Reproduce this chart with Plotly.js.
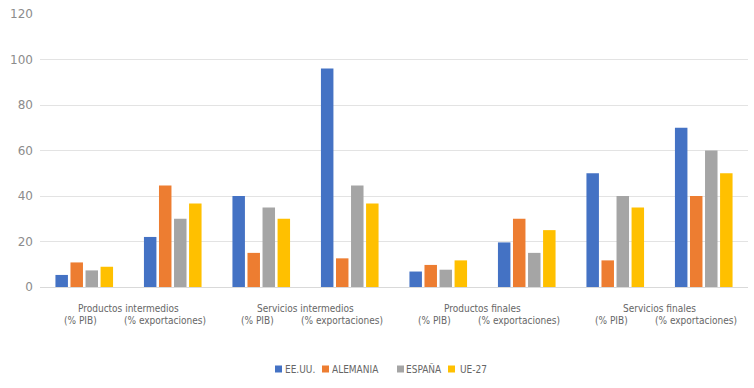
<!DOCTYPE html>
<html>
<head>
<meta charset="utf-8">
<script src="https://cdn.plot.ly/plotly-3.0.1.min.js"></script>
<style>html,body{margin:0;padding:0;background:#fff;}#chart{width:754px;height:388px;}</style>
</head>
<body>
<div id="chart"></div>
<script>
var categories = ["PI (% PIB)", "PI (% exportaciones)", "SI (% PIB)", "SI (% exportaciones)", "PF (% PIB)", "PF (% exportaciones)", "SF (% PIB)", "SF (% exportaciones)"];
var innerLabels = ["(% PIB)", "(% exportaciones)", "(% PIB)", "(% exportaciones)", "(% PIB)", "(% exportaciones)", "(% PIB)", "(% exportaciones)"];
var outerLabels = ["Productos intermedios", "Servicios intermedios", "Productos finales", "Servicios finales"];
var seriesNames = ["EE.UU.", "ALEMANIA", "ESPAÑA", "UE-27"];
var eeuu     = [5.3, 22, 40, 96, 6.8, 19.6, 50, 70];
var alemania = [10.8, 44.6, 15, 12.6, 9.7, 30, 11.7, 40];
var espana   = [7.3, 30, 35, 44.6, 7.6, 15, 40, 60];
var ue27     = [8.9, 36.7, 30, 36.7, 11.7, 25, 35, 50];
var yTicks = [0, 20, 40, 60, 80, 100, 120];

var colors = ["#4472C4", "#ED7D31", "#A5A5A5", "#FFC000"];
var values = [eeuu, alemania, espana, ue27];
var font = "'DejaVu Sans Condensed', 'Liberation Sans Narrow', 'Noto Sans', sans-serif";
var textColor = "#666666";

var traces = values.map(function (v, i) {
  return {type: "bar", x: categories, y: v, name: seriesNames[i], marker: {color: colors[i]}};
});

var annotations = [];
var shapes = [];
innerLabels.forEach(function (t, i) {
  var off = (i % 2 === 0) ? -0.04 : -0.09;
  annotations.push({x: i + off, y: -0.122, xref: "x", yref: "paper", text: t, showarrow: false,
    yanchor: "middle", font: {family: font, size: 10, color: textColor}});
});
outerLabels.forEach(function (t, i) {
  annotations.push({x: 2 * i + 0.5, y: -0.077, xref: "x", yref: "paper", text: t, showarrow: false,
    yanchor: "middle", font: {family: font, size: 10, color: textColor}});
});

// custom legend (positions in paper fractions of the plot area width 708px)
var legendSquares = [275, 322, 397, 448];
var legendText = [285, 332, 406, 460];
seriesNames.forEach(function (n, i) {
  var x0 = (legendSquares[i] - 40) / 708, x1 = (legendSquares[i] + 7 - 40) / 708;
  shapes.push({type: "rect", xref: "paper", yref: "paper", x0: x0, x1: x1,
    y0: (287 - 372.5) / 273, y1: (287 - 365.5) / 273, fillcolor: colors[i], line: {width: 0}});
  annotations.push({x: (legendText[i] - 40) / 708, y: (287 - 369) / 273, xref: "paper", yref: "paper",
    text: n, showarrow: false, xanchor: "left", yanchor: "middle", xshift: -2,
    font: {family: font, size: 10, color: textColor}});
});

var layout = {
  width: 754, height: 388,
  margin: {l: 40, r: 6, t: 14, b: 101},
  paper_bgcolor: "#fff", plot_bgcolor: "#fff",
  barmode: "group", bargap: 0.32, bargroupgap: 0.17,
  showlegend: false,
  xaxis: {type: "category", categoryarray: categories, showticklabels: false, showgrid: false,
    showline: true, linecolor: "#d9d9d9", linewidth: 1, ticks: "", zeroline: false},
  yaxis: {range: [0, 120], tickvals: yTicks, showgrid: true, gridcolor: "#e3e3e3", gridwidth: 1,
    zeroline: false, showline: false, ticks: "", ticklabelstandoff: 6,
    tickfont: {family: "'DejaVu Sans', sans-serif", size: 12, color: "#8c8c8c"}},
  annotations: annotations,
  shapes: shapes
};

Plotly.newPlot("chart", traces, layout, {displayModeBar: false, staticPlot: true});
</script>
</body>
</html>
